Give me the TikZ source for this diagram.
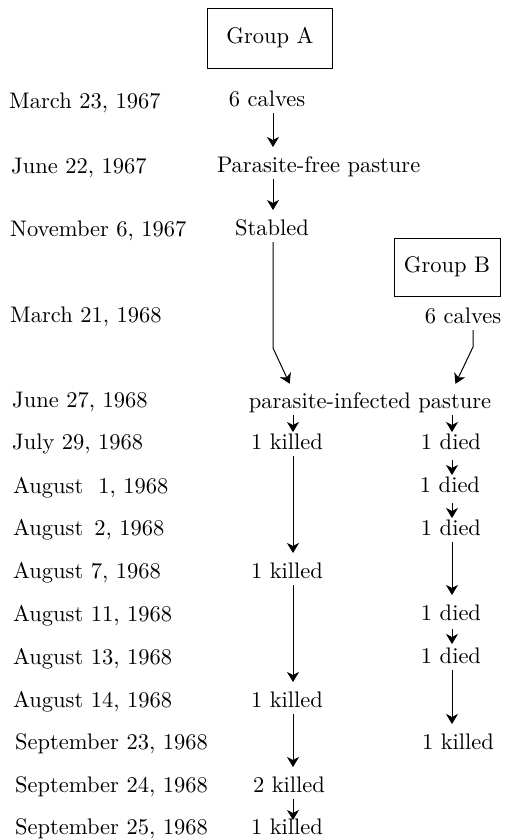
\documentclass[tikz,border=0pt]{standalone}
\usepackage{fontspec}
\newfontfamily\centfont{lmroman10-regular.otf}
\usetikzlibrary{arrows.meta}
\begin{document}
\begin{tikzpicture}[x=1pt,y=-1pt,
  fnt/.style={font=\centfont\fontsize{22.5}{27}\selectfont},
  lbl/.style={fnt,anchor=base west,inner sep=0pt},
  txt/.style={fnt,anchor=base,inner sep=0pt,outer sep=0pt,text height=17pt,text depth=7pt},
  grp/.style={fnt,draw,line width=1pt,inner sep=0pt},
  arr/.style={line width=1pt,-{Stealth[length=10pt,width=12pt,inset=3pt]}},
  longarr/.style={arr,shorten >=8pt}]
\useasboundingbox[fill=white] (0,0) rectangle (523,839);

% dates
\node[lbl] (d1) at (9,108) {March 23, 1967};
\node[lbl] (d2) at (11,173) {June 22, 1967};
\node[lbl] (d3) at (10,236) {November 6, 1967};
\node[lbl] (d4) at (10,322) {March 21, 1968};
\node[lbl] (d5) at (12,407) {June 27, 1968};
\node[lbl] (d6) at (12,449) {July 29, 1968};
\node[lbl] (d7) at (13,493) {August\hspace{15pt}1, 1968};
\node[lbl] (d8) at (13,535) {August\hspace{11pt}2, 1968};
\node[lbl] (d9) at (13,578) {August 7, 1968};
\node[lbl] (d10) at (13,621) {August 11, 1968};
\node[lbl] (d11) at (13,664) {August 13, 1968};
\node[lbl] (d12) at (13,707) {August 14, 1968};
\node[lbl] (d13) at (15,749) {September 23, 1968};
\node[lbl] (d14) at (15,792) {September 24, 1968};
\node[lbl] (d15) at (15,834) {September 25, 1968};

% group A
\node[grp,minimum width=125pt,minimum height=60pt] (ga) at (270,38) {Group A};
\node[txt] (ca) at (267,106) {6 calves};
\node[txt,anchor=base west] (pfp) at (217,172) {Parasite-free pasture};
\node[txt] (st) at (272,235) {Stabled};

% group B
\node[grp,minimum width=106pt,minimum height=58pt] (gb) at (447,267) {Group B};
\node[txt] (cb) at (463,323) {6 calves};

% common
\node[txt] (pip) at (370,408) {parasite-infected pasture};

% middle column
\node[txt] (k1) at (287,449) {1 killed};
\node[txt] (k2) at (287,578) {1 killed};
\node[txt] (k3) at (287,707) {1 killed};
\node[txt] (k4) at (289,792) {2 killed};
\node[txt] (k5) at (287,834) {1 killed};

% right column
\node[txt] (b1) at (451,449) {1 died};
\node[txt] (b2) at (450,492) {1 died};
\node[txt] (b3) at (451,535) {1 died};
\node[txt] (b4) at (451,620) {1 died};
\node[txt] (b5) at (451,663) {1 died};
\node[txt] (b6) at (458,749) {1 killed};

\coordinate (bendL) at (273,348);
\coordinate (bendR) at (473,347);

% connectors group A
\draw[longarr] ([xshift=6pt]ca.south) -- ([xshift=56pt]pfp.north west);
\draw[longarr] ([xshift=56pt]pfp.south west) -- ([xshift=1pt]st.north);
\draw[longarr] ([xshift=1pt]st.south) -- (bendL) -- ([xshift=-77pt]pip.north);
\draw[longarr] ([xshift=10pt]cb.south) -- (bendR) -- ([xshift=82pt]pip.north);

% middle column arrows
\draw[arr] ([xshift=-77pt]pip.south) -- ([xshift=6pt]k1.north);
\draw[longarr] ([xshift=6pt]k1.south) -- ([xshift=6pt]k2.north);
\draw[longarr] ([xshift=6pt]k2.south) -- ([xshift=6pt]k3.north);
\draw[longarr] ([xshift=6pt]k3.south) -- ([xshift=4pt]k4.north);
\draw[arr,shorten >=-3pt] ([xshift=4pt]k4.south) -- ([xshift=6pt]k5.north);

% right column arrows
\draw[arr] ([xshift=82pt]pip.south) -- ([xshift=1pt]b1.north);
\draw[arr,shorten <=4pt] ([xshift=1pt]b1.south) -- ([xshift=2pt]b2.north);
\draw[arr,shorten <=4pt] ([xshift=2pt]b2.south) -- ([xshift=1pt]b3.north);
\draw[longarr] ([xshift=1pt]b3.south) -- ([xshift=1pt]b4.north);
\draw[arr,shorten <=2pt,shorten >=2pt] ([xshift=1pt]b4.south) -- ([xshift=1pt]b5.north);
\draw[longarr] ([xshift=1pt]b5.south) -- ([xshift=-6pt]b6.north);
\end{tikzpicture}
\end{document}
